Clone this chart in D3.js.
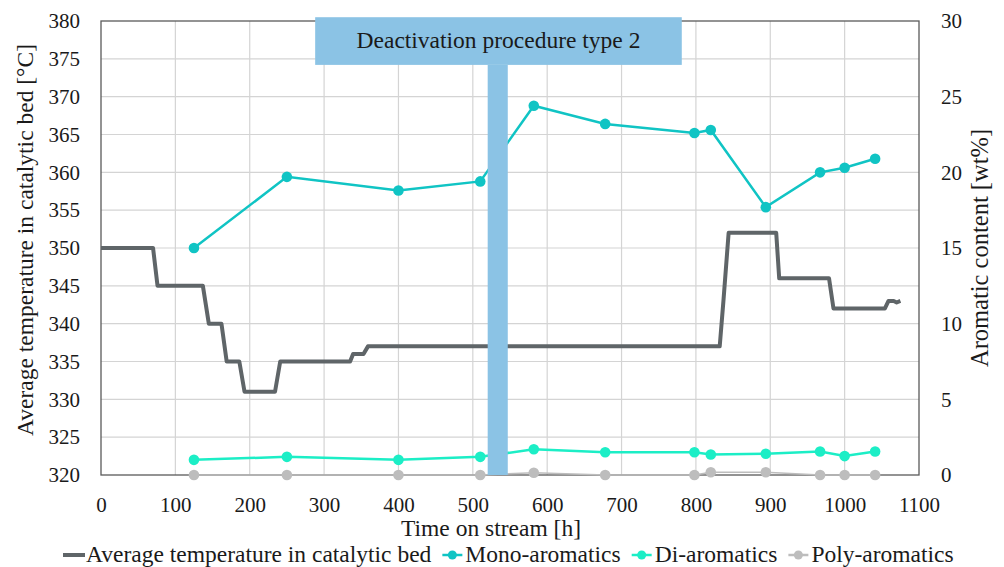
<!DOCTYPE html>
<html>
<head>
<script src="https://cdn.jsdelivr.net/npm/d3@7"></script>
</head>
<body style="margin:0">
<script>
// temperature profile (step-like)
const tempTime = [0, 70, 76, 82, 137, 145, 162, 169, 186, 193, 234, 241, 335, 339, 353, 359, 640, 832, 837, 844, 908, 912, 979, 985, 1054, 1059, 1066, 1070, 1075];
const tempValue = [350, 350, 345, 345, 345, 340, 340, 335, 335, 331, 331, 335, 335, 336, 336, 337, 337, 337, 343, 352, 352, 346, 346, 342, 342, 343, 343, 342.8, 343];

// sample times for the aromatics analyses
const sampleTime = [125, 250, 400, 510, 582, 678, 798, 820, 894, 967, 1000, 1041];
const monoAromatics = [15.0, 19.7, 18.8, 19.4, 24.4, 23.2, 22.6, 22.8, 17.7, 20.0, 20.3, 20.9];
const diAromatics = [1.0, 1.2, 1.0, 1.2, 1.7, 1.5, 1.5, 1.35, 1.4, 1.55, 1.25, 1.55];
const polyAromatics = [0, 0, 0, 0, 0.15, 0, 0, 0.18, 0.18, 0, 0, 0];

const xTicks = [0, 100, 200, 300, 400, 500, 600, 700, 800, 900, 1000, 1100];
const leftTicks = [320, 325, 330, 335, 340, 345, 350, 355, 360, 365, 370, 375, 380];
const rightTicks = [0, 5, 10, 15, 20, 25, 30];

// deactivation marker (time range of bar, box in time / degC units)
const deactBar = [520, 547];
const deactBox = { t0: 288, t1: 781, top: 380.5, bottom: 374.2, label: "Deactivation procedure type 2" };

const legendItems = [
    { name: "Average temperature in catalytic bed", color: "#5f6568", type: "line" },
    { name: "Mono-aromatics", color: "#10c4c4", type: "marker" },
    { name: "Di-aromatics", color: "#1ceec6", type: "marker" },
    { name: "Poly-aromatics", color: "#bdbdbd", type: "marker" }
];

const width = 1004, height = 567;
const margin = { top: 21, right: 85, bottom: 92, left: 101 };
const ink = "#1a1a1a";

const svg = d3.select("body").append("svg")
    .attr("width", width)
    .attr("height", height);

const x = d3.scaleLinear().domain([0, 1100]).range([margin.left, width - margin.right]);
const yT = d3.scaleLinear().domain([320, 380]).range([height - margin.bottom, margin.top]);
const yA = d3.scaleLinear().domain([0, 30]).range([height - margin.bottom, margin.top]);

function setFont(sel, size) {
    return sel.style("font-family", `"Liberation Serif"`).attr("font-size", size).attr("fill", ink);
}

// grid
svg.append("g").selectAll("line").data(xTicks.slice(1, -1)).enter().append("line")
    .attr("x1", d => x(d)).attr("x2", d => x(d))
    .attr("y1", yT(320)).attr("y2", yT(380))
    .attr("stroke", "#d4d4d4").attr("stroke-width", 1.2);
svg.append("g").selectAll("line").data(leftTicks.slice(1, -1)).enter().append("line")
    .attr("x1", x(0)).attr("x2", x(1100))
    .attr("y1", d => yT(d)).attr("y2", d => yT(d))
    .attr("stroke", "#d4d4d4").attr("stroke-width", 1.2);

// frame
svg.append("rect")
    .attr("x", x(0)).attr("y", yT(380))
    .attr("width", x(1100) - x(0)).attr("height", yT(320) - yT(380))
    .attr("fill", "none").attr("stroke", "#5a5a5a").attr("stroke-width", 1.3);

// axes
const leftAxis = svg.append("g")
    .attr("transform", `translate(${x(0)},0)`)
    .call(d3.axisLeft(yT).tickValues(leftTicks).tickSize(0).tickPadding(21).tickFormat(d3.format("d")));
const rightAxis = svg.append("g")
    .attr("transform", `translate(${x(1100)},0)`)
    .call(d3.axisRight(yA).tickValues(rightTicks).tickSize(0).tickPadding(22).tickFormat(d3.format("d")));
const bottomAxis = svg.append("g")
    .attr("transform", `translate(0,${yT(320)})`)
    .call(d3.axisBottom(x).tickValues(xTicks).tickSize(0).tickPadding(22).tickFormat(d3.format("d")));
[leftAxis, rightAxis, bottomAxis].forEach(g => {
    g.select(".domain").remove();
    g.attr("font-family", null).attr("font-size", null);
    setFont(g.selectAll("text"), 21);
});

// axis titles
setFont(svg.append("text"), 23.5)
    .attr("transform", `translate(33,${(yT(320) + yT(380)) / 2 - 8}) rotate(-90)`)
    .attr("text-anchor", "middle")
    .text("Average temperature in catalytic bed [\u00B0C]");
setFont(svg.append("text"), 24.5)
    .attr("transform", `translate(988,${(yA(0) + yA(30)) / 2}) rotate(-90)`)
    .attr("text-anchor", "middle")
    .text("Aromatic content [wt%]");
setFont(svg.append("text"), 23.5)
    .attr("x", 491).attr("y", 536)
    .attr("text-anchor", "middle")
    .text("Time on stream [h]");

const lineT = d3.line().x((d, i) => x(tempTime[i])).y(d => yT(d));
const lineA = d3.line().x((d, i) => x(sampleTime[i])).y(d => yA(d));

function drawSeries(values, color, lw, r) {
    const g = svg.append("g");
    g.append("path").datum(values)
        .attr("d", lineA).attr("fill", "none")
        .attr("stroke", color).attr("stroke-width", lw);
    g.selectAll("circle").data(values).enter().append("circle")
        .attr("cx", (d, i) => x(sampleTime[i])).attr("cy", d => yA(d))
        .attr("r", r).attr("fill", color);
}

drawSeries(polyAromatics, legendItems[3].color, 1.5, 5.3);
drawSeries(diAromatics, legendItems[2].color, 2.5, 5.3);
drawSeries(monoAromatics, legendItems[1].color, 2.5, 5.3);

svg.append("path").datum(tempValue)
    .attr("d", lineT).attr("fill", "none")
    .attr("stroke", legendItems[0].color).attr("stroke-width", 4)
    .attr("stroke-linejoin", "round");

// deactivation bar and box, drawn above the lines as in the reference
svg.append("rect")
    .attr("x", x(deactBar[0])).attr("y", yT(deactBox.bottom))
    .attr("width", x(deactBar[1]) - x(deactBar[0]))
    .attr("height", yT(320) - yT(deactBox.bottom))
    .attr("fill", "#8bc3e5");
svg.append("rect")
    .attr("x", x(deactBox.t0)).attr("y", yT(deactBox.top))
    .attr("width", x(deactBox.t1) - x(deactBox.t0))
    .attr("height", yT(deactBox.bottom) - yT(deactBox.top))
    .attr("fill", "#8bc3e5");
setFont(svg.append("text"), 23.5)
    .attr("x", (x(deactBox.t0) + x(deactBox.t1)) / 2)
    .attr("y", (yT(deactBox.top) + yT(deactBox.bottom)) / 2 + 7)
    .attr("text-anchor", "middle")
    .text(deactBox.label);

// legend
const legend = svg.append("g").attr("transform", "translate(0,562)");
let lx = 63;
legendItems.forEach(item => {
    const g = legend.append("g");
    if (item.type === "line") {
        g.append("line").attr("x1", lx).attr("x2", lx + 22).attr("y1", -7).attr("y2", -7)
            .attr("stroke", item.color).attr("stroke-width", 4);
    } else {
        g.append("line").attr("x1", lx).attr("x2", lx + 20).attr("y1", -7).attr("y2", -7)
            .attr("stroke", item.color).attr("stroke-width", 2.5);
        g.append("circle").attr("cx", lx + 10).attr("cy", -7).attr("r", 4.5).attr("fill", item.color);
    }
    const t = setFont(g.append("text"), 23.5).attr("x", lx + 23).attr("y", 0).text(item.name);
    lx += 23 + t.node().getComputedTextLength() + 11;
});
</script>
</body>
</html>
